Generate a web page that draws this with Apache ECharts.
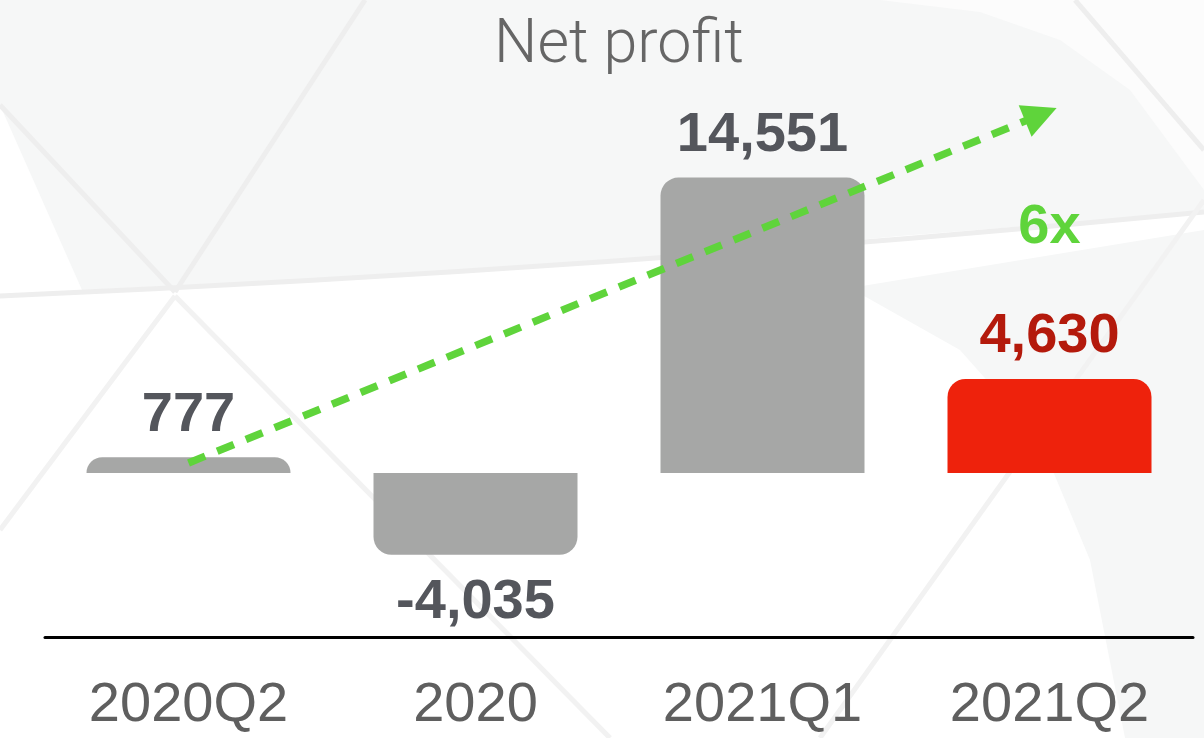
<!DOCTYPE html>
<html>
<head>
<meta charset="utf-8">
<script src="https://cdn.jsdelivr.net/npm/echarts@6/dist/echarts.min.js"></script>
<style>
html,body{margin:0;padding:0;background:#ffffff;}
#chart{width:1204px;height:738px;}
</style>
</head>
<body>
<div id="chart"></div>
<script>
// ---- data ----
const categories = ['2020Q2', '2020', '2021Q1', '2021Q2'];
const netProfit = [777, -4035, 14551, 4630];
const highlightIndex = 3;
const titleText = 'Net profit';
const growthLabel = '6x';
// arrow annotation in data coordinates: [category position, value]
const arrowFrom = [0, 490];
const arrowTo = [2.97, 17660];
const growthLabelAt = [3, 12100];

// ---- styles ----
const GREY = '#a6a7a6';
const RED = '#ee220c';
const LABEL_DARK = '#54565c';
const LABEL_RED = '#b41a0c';
const GREEN = '#5fd43b';
const R = 18;

const barData = netProfit.map((v, i) => {
  const neg = v < 0;
  const hi = i === highlightIndex;
  return {
    value: v,
    itemStyle: {
      color: hi ? RED : GREY,
      borderRadius: neg ? [0, 0, R, R] : [R, R, 0, 0]
    },
    label: {
      position: neg ? 'bottom' : 'top',
      distance: neg ? 20 : 14,
      color: hi ? LABEL_RED : LABEL_DARK
    }
  };
});

const bgLine = '#eeeeee';
const bgLine2 = '#f2f2f2';
const chart = echarts.init(document.getElementById('chart'), null, {renderer: 'canvas'});
chart.setOption({
  animation: false,
  backgroundColor: '#ffffff',
  grid: {left: 45, right: 11, top: 67, bottom: 101, containLabel: false},
  xAxis: [
    {
      type: 'category',
      data: categories,
      axisLine: {show: true, onZero: false, lineStyle: {color: '#000000', width: 3}},
      axisTick: {show: false},
      axisLabel: {
        color: '#5f5f5f',
        fontSize: 56,
        fontFamily: '"Liberation Sans", Arial, sans-serif',
        margin: 41
      },
      splitLine: {show: false}
    },
    {
      type: 'value',
      min: -0.5,
      max: 3.5,
      show: false
    }
  ],
  yAxis: {
    type: 'value',
    min: -8086,
    max: 20000,
    show: false,
    splitLine: {show: false}
  },
  graphic: [
    // faint background decoration
    {type: 'polygon', z: -5, silent: true,
      shape: {points: [[0,0],[1204,0],[1204,212],[900,236],[620,262],[300,280],[82,290],[0,105]]},
      style: {fill: '#f6f7f7'}},
    {type: 'polygon', z: -4, silent: true,
      shape: {points: [[880,0],[980,12],[1060,40],[1130,90],[1204,190],[1204,0]]},
      style: {fill: '#fcfcfc'}},
    {type: 'polygon', z: -5, silent: true,
      shape: {points: [[850,288],[960,350],[1040,440],[1090,560],[1125,738],[1204,738],[1204,230]]},
      style: {fill: '#f6f7f7'}},
    {type: 'bezierCurve', z: -3, silent: true,
      shape: {x1: 0, y1: 296, cpx1: 600, cpy1: 270, x2: 1204, y2: 212},
      style: {fill: 'none', stroke: bgLine, lineWidth: 5}},
    {type: 'line', z: -3, silent: true, shape: {x1: 365, y1: 0, x2: 175, y2: 292}, style: {stroke: bgLine, lineWidth: 5}},
    {type: 'line', z: -3, silent: true, shape: {x1: 0, y1: 105, x2: 175, y2: 292}, style: {stroke: bgLine, lineWidth: 5}},
    {type: 'line', z: -3, silent: true, shape: {x1: 175, y1: 296, x2: 0, y2: 530}, style: {stroke: bgLine2, lineWidth: 5}},
    {type: 'line', z: -3, silent: true, shape: {x1: 175, y1: 296, x2: 610, y2: 738}, style: {stroke: bgLine2, lineWidth: 5}},
    {type: 'line', z: -3, silent: true, shape: {x1: 1075, y1: 0, x2: 1204, y2: 150}, style: {stroke: bgLine, lineWidth: 5}},
    {type: 'line', z: -3, silent: true, shape: {x1: 1204, y1: 200, x2: 820, y2: 738}, style: {stroke: bgLine2, lineWidth: 5}},
    // title
    {type: 'text', z: 20, silent: true, x: 619, y: 47,
      style: {text: titleText, fill: '#666666', font: '300 61px Roboto, "Liberation Sans", sans-serif',
        textAlign: 'center', textVerticalAlign: 'middle'}}
  ],
  series: [
    {
      type: 'bar',
      xAxisIndex: 0,
      yAxisIndex: 0,
      data: barData,
      barWidth: 204,
      z: 2,
      label: {
        show: true,
        fontSize: 56,
        fontWeight: 'bold',
        fontFamily: '"Liberation Sans", Arial, sans-serif',
        formatter: p => p.value.toLocaleString('en-US')
      }
    },
    {
      type: 'line',
      xAxisIndex: 1,
      yAxisIndex: 0,
      data: [],
      z: 5,
      silent: true,
      markLine: {
        silent: true,
        animation: false,
        symbol: ['none', 'triangle'],
        symbolSize: [34, 34],
        label: {show: false},
        lineStyle: {color: GREEN, width: 7.5, type: [18, 13], opacity: 1},
        emphasis: {disabled: true},
        data: [[{coord: arrowFrom}, {coord: arrowTo}]]
      },
      markPoint: {
        silent: true,
        symbol: 'circle',
        symbolSize: 1,
        itemStyle: {color: 'rgba(0,0,0,0)'},
        label: {
          show: true,
          position: 'inside',
          formatter: growthLabel,
          color: GREEN,
          fontSize: 56,
          fontWeight: 'bold',
          fontFamily: '"Liberation Sans", Arial, sans-serif'
        },
        data: [{coord: growthLabelAt}]
      }
    }
  ]
});
</script>
</body>
</html>
